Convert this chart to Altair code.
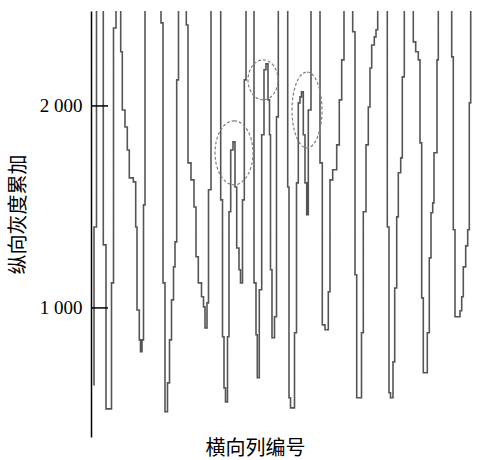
import altair as alt
import pandas as pd

T = 2600  # peaks above the visible range (clipped)

# column index (horizontal) and accumulated gray value (vertical)
cols = [
    2.5, 3, 5.5,
    12.3, 15, 20.5, 22.5, 25,
    29.7, 31.3, 34, 36.3, 38.3, 42.3, 44.7, 46, 48.3, 49.5, 51, 52.5, 54,
    70, 72, 74, 76.5, 78.5, 80.5, 82.5, 84, 85.7, 87.5,
    95.3, 97, 100, 103, 105, 107.3, 110.5, 112.5, 114, 116, 117.5, 120,
    129.7, 131.5, 133, 134.5, 136.5, 138, 139.7, 142, 144, 145.7, 148, 149.5, 151.5, 153.3, 155,
    163, 165, 166.3, 168.3, 170.7, 173, 175, 177, 178.5, 179.5, 181, 183.5, 185.5, 187.3,
    196.7, 198, 199.5, 203.5, 205.5, 207.3, 209, 210.5, 212.3, 214, 215.7, 217.3, 220,
    229, 231.3, 234, 237.3, 239, 241.7, 245.7, 248.3, 250.7, 253,
    261.7, 264, 265.7, 270.5, 272.3, 275, 277.3, 279, 280.7, 283.3, 285, 286.7,
    296.3, 298, 299.5, 302, 303.7, 305.7, 307.3, 309.7, 311.3, 313.3,
    322.3, 324.7, 327.3, 329, 330.7, 332.3, 336.3, 338.3, 340, 341.7, 343, 346, 347.3,
    360.7, 362.3, 364, 369, 370.7, 372.3, 374.7, 376.7, 378.3, 379.7, 381,
]
gray = [
    619, 1401, T,
    1312, 500, 1124, 2386, T,
    2268, 1980, 1896, 1782, 1644, 1624, 1401, 990, 842, 783, 842, 1510, T,
    2411, 1124, 486, 629, 842, 1040, 1203, 1327, 2129, T,
    2401, 1718, 1634, 1500, 1253, 1124, 1055, 1005, 901, 1025, 1585, T,
    1535, 857, 604, 535, 857, 1476, 1782, 1822, 1599, 1297, 1189, 1124, 1535, 2129, T,
    1124, 867, 654, 1090, 1857, 2179, 2208, 2030, 1857, 1189, 852, 956, 1946, T,
    1599, 555, 505, 877, 1619, 2015, 2045, 2070, 1857, 1619, 1461, 1980, T,
    1718, 916, 892, 1080, 1634, 1684, 1807, 2030, 2228, T,
    2367, 1164, 555, 877, 1476, 1807, 1995, 2188, 2302, 2342, 2377, T,
    1401, 580, 555, 733, 1099, 1451, 1669, 1743, 2144, T,
    2317, 2268, 2228, 1817, 1050, 679, 877, 1248, 1471, 1520, 1768, 2228, T,
    2243, 1387, 956, 986, 1055, 1203, 1307, 1387, 2015, T, T,
]

y_ticks = [1000, 2000]

# circled peaks (annotation centres)
circle_cols = [143, 172, 216]
circle_gray = [1768, 2129, 1980]
circle_rx = [19, 15, 15]
circle_ry = [32, 20, 38]

K = 0.5523


def ellipse_path(r):
    a = r
    return (f"M 0 -1 C {K*a:.4f} -1 {a:.4f} {-K:.4f} {a:.4f} 0 "
            f"C {a:.4f} {K:.4f} {K*a:.4f} 1 0 1 "
            f"C {-K*a:.4f} 1 {-a:.4f} {K:.4f} {-a:.4f} 0 "
            f"C {-a:.4f} {-K:.4f} {-K*a:.4f} -1 0 -1 Z")


line_df = pd.DataFrame({"col": cols, "gray": gray, "order": range(len(cols))})
tick_df = pd.DataFrame({"gray": y_ticks})
circ_df = pd.DataFrame({
    "col": circle_cols,
    "gray": circle_gray,
    "shape": [ellipse_path(rx / ry) for rx, ry in zip(circle_rx, circle_ry)],
    "size": [(2 * ry) ** 2 for ry in circle_ry],
})

XMAX = 391
YDOM = [361, 2470]
x_scale = alt.Scale(domain=[0, XMAX], nice=False, zero=False)
y_scale = alt.Scale(domain=YDOM, nice=False, zero=False)

CJK = "Noto Sans CJK SC"

x_axis = alt.Axis(
    domain=False, ticks=False, labels=False, grid=False,
    title="横向列编号", titleFont=CJK, titleFontSize=20,
    titleFontWeight="normal", titleColor="black",
    titleX=164, titleY=11, titleBaseline="middle", titleAlign="center")
y_axis = alt.Axis(
    values=y_ticks, ticks=False, grid=False,
    domainColor="black", domainWidth=1.5,
    labelExpr="replace(format(datum.value, ','), ',', ' ')",
    labelFont="Liberation Serif", labelFontSize=19, labelColor="black",
    labelPadding=9,
    title="纵向灰度累加", titleFont=CJK, titleFontSize=20,
    titleFontWeight="normal", titleColor="black",
    titleX=-73, titleY=203, titleAngle=270,
    titleBaseline="middle", titleAlign="center")

line = alt.Chart(line_df).mark_line(
    interpolate="step-after", color="#555555", strokeWidth=1.6, clip=True
).encode(
    x=alt.X("col:Q", scale=x_scale, axis=x_axis, title="横向列编号"),
    y=alt.Y("gray:Q", scale=y_scale, axis=y_axis, title="纵向灰度累加"),
    order="order:Q",
)

ticks = alt.Chart(tick_df).mark_rule(color="black", strokeWidth=1.5).encode(
    y=alt.Y("gray:Q", scale=y_scale, axis=y_axis, title="纵向灰度累加"),
    x=alt.value(0),
    x2=alt.value(17),
)

circles = alt.Chart(circ_df).mark_point(
    filled=False, stroke="#808080", strokeWidth=1.2, strokeDash=[3, 2], opacity=1
).encode(
    x=alt.X("col:Q", scale=x_scale, axis=x_axis, title="横向列编号"),
    y=alt.Y("gray:Q", scale=y_scale, axis=y_axis, title="纵向灰度累加"),
    shape=alt.Shape("shape:N", scale=None, legend=None),
    size=alt.Size("size:Q", scale=None, legend=None),
)

chart = alt.layer(line, ticks, circles).properties(
    width=XMAX, height=426,
    padding={"left": 91, "top": 11, "right": 0, "bottom": 23},
    autosize=alt.AutoSizeParams(type="none"),
    background="white",
).configure_view(stroke=None)

chart.save("out.html", embed_options={"renderer": "svg", "actions": False})
